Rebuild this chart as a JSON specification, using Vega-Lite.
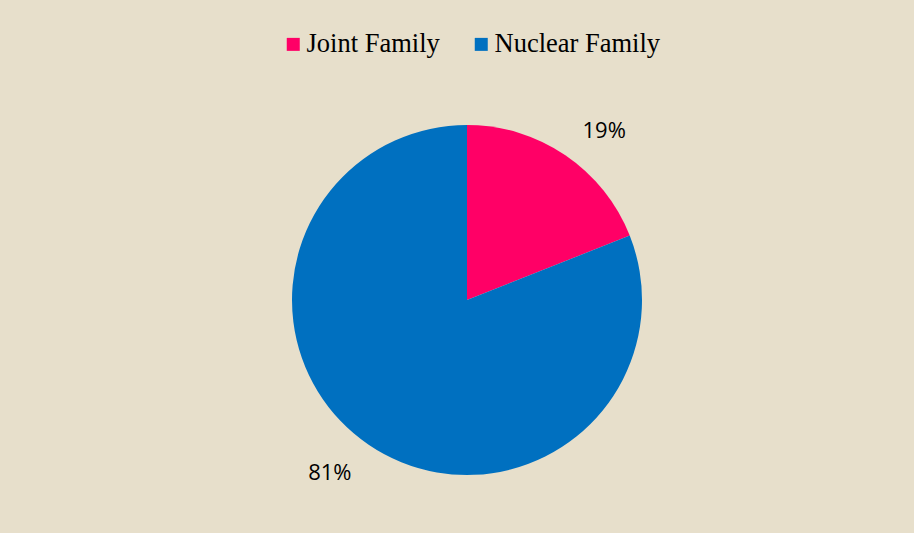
{
  "$schema": "https://vega.github.io/schema/vega-lite/v6.json",
  "width": 914,
  "height": 533,
  "autosize": {"type": "fit", "contains": "padding"},
  "padding": {"left": 20, "top": 67, "right": 0, "bottom": 0},
  "background": "#E7DFCB",
  "config": {"view": {"stroke": null}},
  "data": {
    "values": [
      {"type": "Joint Family", "value": 19, "label": "19%", "ord": 1},
      {"type": "Nuclear Family", "value": 81, "label": "81%", "ord": 2}
    ]
  },
  "encoding": {
    "theta": {"field": "value", "type": "quantitative", "stack": true},
    "order": {"field": "ord", "type": "quantitative"}
  },
  "layer": [
    {
      "mark": {"type": "arc", "radius": 175},
      "encoding": {
        "color": {
          "field": "type",
          "type": "nominal",
          "scale": {"domain": ["Joint Family", "Nuclear Family"], "range": ["#FF0066", "#0070C0"]},
          "legend": {
            "title": null,
            "orient": "none",
            "direction": "horizontal",
            "legendX": 260,
            "legendY": -36,
            "symbolType": "square",
            "symbolSize": 169,
            "symbolStrokeWidth": 0,
            "labelFont": "Liberation Serif",
            "labelFontSize": 26.5,
            "labelColor": "#000000",
            "labelOffset": 0,
            "columnPadding": 28,
            "labelLimit": 300
          }
        }
      }
    },
    {
      "mark": {"type": "text", "radius": 219, "thetaOffset": 0.08, "font": "Open Sans", "fontSize": 22, "color": "#000000", "dy": 2},
      "encoding": {
        "text": {"field": "label", "type": "nominal"}
      }
    }
  ]
}
